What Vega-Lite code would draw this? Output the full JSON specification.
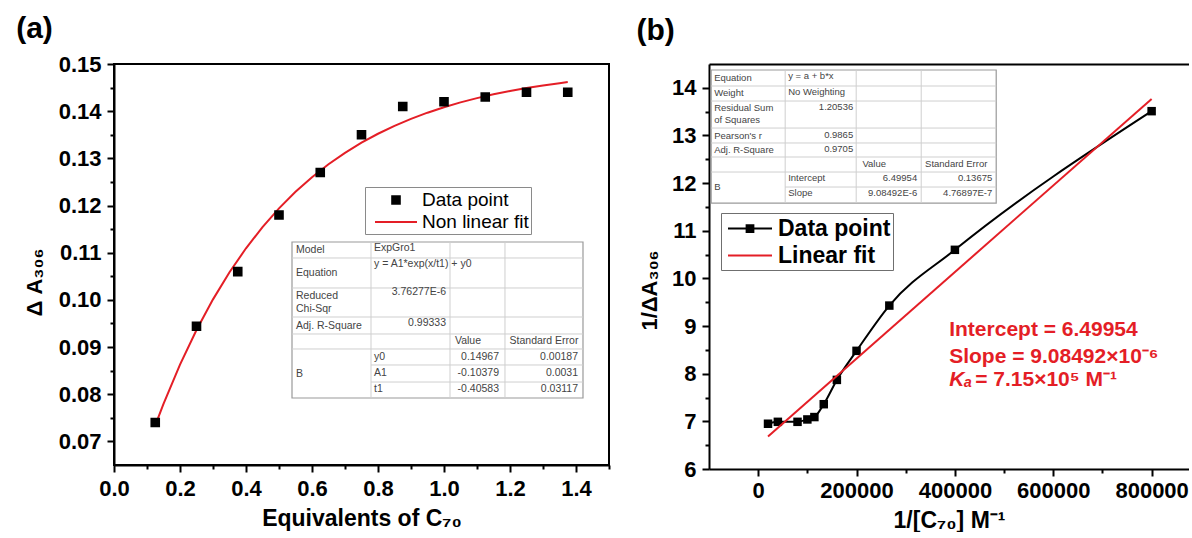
{
  "$schema": "https://vega.github.io/schema/vega-lite/v6.json",
  "background": "white",
  "padding": {"left": 15, "top": 13, "right": 0, "bottom": 0},
  "config": {
    "font": "Liberation Sans",
    "view": {"stroke": "black", "strokeWidth": 2},
    "axis": {
      "grid": false, "domainColor": "black", "domainWidth": 2,
      "tickColor": "black", "tickWidth": 2,
      "labelFont": "Liberation Sans", "labelFontSize": 22, "labelFontWeight": "bold", "labelColor": "black",
      "labelFlush": false, "labelOverlap": false,
      "titleFont": "Liberation Sans", "titleFontSize": 22, "titleFontWeight": "bold", "titleColor": "black"
    },
    "legend": {"labelFont": "Liberation Sans", "labelColor": "black", "labelLimit": 0},
    "title": {"font": "Liberation Sans", "color": "black", "fontWeight": "bold"}
  },
  "datasets": {
    "aPoints": [
      {"equiv": 0.125, "dA": 0.0740, "series": "Data point"},
      {"equiv": 0.25, "dA": 0.0944, "series": "Data point"},
      {"equiv": 0.375, "dA": 0.1060, "series": "Data point"},
      {"equiv": 0.5, "dA": 0.1180, "series": "Data point"},
      {"equiv": 0.625, "dA": 0.1270, "series": "Data point"},
      {"equiv": 0.75, "dA": 0.1350, "series": "Data point"},
      {"equiv": 0.875, "dA": 0.1410, "series": "Data point"},
      {"equiv": 1.0, "dA": 0.1420, "series": "Data point"},
      {"equiv": 1.125, "dA": 0.1430, "series": "Data point"},
      {"equiv": 1.25, "dA": 0.1440, "series": "Data point"},
      {"equiv": 1.375, "dA": 0.1440, "series": "Data point"}
    ],
    "aFit": [
      {"equiv": 0.125, "dA": 0.073398}, {"equiv": 0.15, "dA": 0.077953}, {"equiv": 0.2, "dA": 0.086265},
      {"equiv": 0.25, "dA": 0.093614}, {"equiv": 0.3, "dA": 0.100111}, {"equiv": 0.35, "dA": 0.105856},
      {"equiv": 0.4, "dA": 0.110933}, {"equiv": 0.45, "dA": 0.115425}, {"equiv": 0.5, "dA": 0.119394},
      {"equiv": 0.55, "dA": 0.122905}, {"equiv": 0.6, "dA": 0.126007}, {"equiv": 0.65, "dA": 0.128750},
      {"equiv": 0.7, "dA": 0.131175}, {"equiv": 0.75, "dA": 0.133319}, {"equiv": 0.8, "dA": 0.135214},
      {"equiv": 0.85, "dA": 0.136890}, {"equiv": 0.9, "dA": 0.138372}, {"equiv": 0.95, "dA": 0.139681},
      {"equiv": 1.0, "dA": 0.140839}, {"equiv": 1.05, "dA": 0.141863}, {"equiv": 1.1, "dA": 0.142768},
      {"equiv": 1.15, "dA": 0.143568}, {"equiv": 1.2, "dA": 0.144275}, {"equiv": 1.25, "dA": 0.144901},
      {"equiv": 1.3, "dA": 0.145453}, {"equiv": 1.35, "dA": 0.145942}, {"equiv": 1.375, "dA": 0.146165}
    ],
    "aBox": [{"x": 0.5394, "x2": 1.4212, "y": 0.11227, "y2": 0.07920}],
    "aGrid": [
      {"x": 0.5394, "x2": 1.4212, "y": 0.10888, "y2": 0.10888},
      {"x": 0.5394, "x2": 1.4212, "y": 0.10252, "y2": 0.10252},
      {"x": 0.5394, "x2": 1.4212, "y": 0.09637, "y2": 0.09637},
      {"x": 0.5394, "x2": 1.4212, "y": 0.09277, "y2": 0.09277},
      {"x": 0.5394, "x2": 1.4212, "y": 0.08959, "y2": 0.08959},
      {"x": 0.7788, "x2": 1.4212, "y": 0.08620, "y2": 0.08620},
      {"x": 0.7788, "x2": 1.4212, "y": 0.08259, "y2": 0.08259},
      {"x": 0.7788, "x2": 0.7788, "y": 0.11227, "y2": 0.07920},
      {"x": 1.0182, "x2": 1.0182, "y": 0.11227, "y2": 0.07920},
      {"x": 1.1848, "x2": 1.1848, "y": 0.11227, "y2": 0.07920}
    ],
    "aLabels": [
      {"text": "Model", "x": 0.5515, "y": 0.11055},
      {"text": "ExpGro1", "x": 0.7879, "y": 0.11097},
      {"text": "Equation", "x": 0.5515, "y": 0.10568},
      {"text": "y = A1*exp(x/t1) + y0", "x": 0.7879, "y": 0.10759},
      {"text": "Reduced", "x": 0.5515, "y": 0.10082},
      {"text": "Chi-Sqr", "x": 0.5515, "y": 0.09807},
      {"text": "Adj. R-Square", "x": 0.5515, "y": 0.09447},
      {"text": "y0", "x": 0.7879, "y": 0.08790},
      {"text": "B", "x": 0.5515, "y": 0.08430},
      {"text": "A1", "x": 0.7879, "y": 0.08451},
      {"text": "t1", "x": 0.7879, "y": 0.08111}
    ],
    "aValues": [
      {"text": "3.76277E-6", "x": 1.0061, "y": 0.10167},
      {"text": "0.99333", "x": 1.0061, "y": 0.09510},
      {"text": "0.14967", "x": 1.1667, "y": 0.08790},
      {"text": "0.00187", "x": 1.4061, "y": 0.08790},
      {"text": "-0.10379", "x": 1.1667, "y": 0.08451},
      {"text": "0.0031", "x": 1.4061, "y": 0.08451},
      {"text": "-0.40583", "x": 1.1667, "y": 0.08111},
      {"text": "0.03117", "x": 1.4061, "y": 0.08111}
    ],
    "aHeads": [
      {"text": "Value", "x": 1.0727, "y": 0.09129},
      {"text": "Standard Error", "x": 1.3030, "y": 0.09129}
    ],
    "bPoints": [
      {"invC": 20000, "invA": 6.95, "series": "Data point"},
      {"invC": 40000, "invA": 6.99, "series": "Data point"},
      {"invC": 80000, "invA": 6.99, "series": "Data point"},
      {"invC": 100000, "invA": 7.04, "series": "Data point"},
      {"invC": 114286, "invA": 7.09, "series": "Data point"},
      {"invC": 133333, "invA": 7.36, "series": "Data point"},
      {"invC": 160000, "invA": 7.87, "series": "Data point"},
      {"invC": 200000, "invA": 8.48, "series": "Data point"},
      {"invC": 266667, "invA": 9.43, "series": "Data point"},
      {"invC": 400000, "invA": 10.60, "series": "Data point"},
      {"invC": 800000, "invA": 13.51, "series": "Data point"}
    ],
    "bFit": [
      {"invC": 20000, "invA": 6.6812},
      {"invC": 800000, "invA": 13.7675}
    ],
    "bBox": [{"x": -95600, "x2": 484000, "y": 14.374, "y2": 11.582}],
    "bGrid": [
      {"x": -95600, "x2": 484000, "y": 14.038, "y2": 14.038},
      {"x": -95600, "x2": 484000, "y": 13.723, "y2": 13.723},
      {"x": -95600, "x2": 484000, "y": 13.156, "y2": 13.156},
      {"x": -95600, "x2": 484000, "y": 12.842, "y2": 12.842},
      {"x": -95600, "x2": 484000, "y": 12.548, "y2": 12.548},
      {"x": -95600, "x2": 484000, "y": 12.233, "y2": 12.233},
      {"x": 54900, "x2": 484000, "y": 11.918, "y2": 11.918},
      {"x": 54900, "x2": 54900, "y": 14.374, "y2": 11.582},
      {"x": 199300, "x2": 199300, "y": 14.374, "y2": 11.582},
      {"x": 331500, "x2": 331500, "y": 14.374, "y2": 11.582}
    ],
    "bLabels": [
      {"text": "Equation", "x": -89500, "y": 14.206},
      {"text": "y = a + b*x", "x": 61000, "y": 14.248},
      {"text": "Weight", "x": -89500, "y": 13.891},
      {"text": "No Weighting", "x": 61000, "y": 13.912},
      {"text": "Residual Sum", "x": -89500, "y": 13.576},
      {"text": "of Squares", "x": -89500, "y": 13.324},
      {"text": "Pearson's r", "x": -89500, "y": 12.988},
      {"text": "Adj. R-Square", "x": -89500, "y": 12.695},
      {"text": "B", "x": -89500, "y": 11.918},
      {"text": "Intercept", "x": 61000, "y": 12.107},
      {"text": "Slope", "x": 61000, "y": 11.792}
    ],
    "bValues": [
      {"text": "1.20536", "x": 193200, "y": 13.597},
      {"text": "0.9865", "x": 193200, "y": 13.009},
      {"text": "0.9705", "x": 193200, "y": 12.716},
      {"text": "6.49954", "x": 323300, "y": 12.107},
      {"text": "0.13675", "x": 475900, "y": 12.107},
      {"text": "9.08492E-6", "x": 323300, "y": 11.792},
      {"text": "4.76897E-7", "x": 475900, "y": 11.792}
    ],
    "bHeads": [
      {"text": "Value", "x": 235900, "y": 12.401},
      {"text": "Standard Error", "x": 402700, "y": 12.401}
    ],
    "bNotes": [
      {"text": "Intercept = 6.49954", "x": 388400, "y": 8.917},
      {"text": "Slope = 9.08492×10⁻⁶", "x": 388400, "y": 8.350}
    ],
    "bKa": [{"text": "Kₐ", "x": 388400, "y": 7.868}],
    "bKaValue": [{"text": "= 7.15×10⁵ M⁻¹", "x": 388400, "y": 7.868}]
  },
  "resolve": {"scale": {"color": "independent", "shape": "independent"}, "legend": {"color": "independent", "shape": "independent"}},
  "spacing": 25,
  "hconcat": [
    {
      "width": 495,
      "height": 401,
      "title": {"text": "(a)", "anchor": "start", "frame": "bounds", "fontSize": 30, "dx": -7, "offset": 9},
      "resolve": {"axis": {"x": "independent", "y": "independent"}},
      "layer": [
        {
          "data": {"name": "aFit"},
          "mark": {"type": "line", "color": "#e41e26", "strokeWidth": 2},
          "encoding": {
            "x": {"field": "equiv", "type": "quantitative", "scale": {"domain": [0, 1.5], "nice": false, "zero": false},
              "axis": {"orient": "bottom", "values": [0, 0.2, 0.4, 0.6, 0.8, 1, 1.2, 1.4], "format": ".1f", "tickSize": 7, "labelPadding": 6, "title": "Equivalents of C₇₀", "titleFontSize": 23, "titlePadding": 8}},
            "y": {"field": "dA", "type": "quantitative", "scale": {"domain": [0.065, 0.15], "nice": false, "zero": false},
              "axis": {"orient": "left", "values": [0.07, 0.08, 0.09, 0.1, 0.11, 0.12, 0.13, 0.14, 0.15], "format": ".2f", "tickSize": 7, "labelPadding": 6, "title": "Δ A₃₀₆", "titlePadding": 12, "titleY": 218}}
          }
        },
        {
          "data": {"name": "aPoints"},
          "mark": {"type": "point", "filled": false, "fill": "black", "strokeWidth": 2, "size": 400, "opacity": 1},
          "encoding": {
            "x": {"field": "equiv", "type": "quantitative",
              "axis": {"orient": "bottom", "values": [0.1, 0.3, 0.5, 0.7, 0.9, 1.1, 1.3, 1.5], "labels": false, "domain": false, "tickSize": 4, "title": null}},
            "y": {"field": "dA", "type": "quantitative",
              "axis": {"orient": "left", "values": [0.075, 0.085, 0.095, 0.105, 0.115, 0.125, 0.135, 0.145], "labels": false, "domain": false, "tickSize": 4, "title": null}},
            "color": {"field": "series", "type": "nominal",
              "scale": {"domain": ["Data point", "Non linear fit"], "range": ["black", "#e41e26"]},
              "legend": {
                "orient": "none", "legendX": 251, "legendY": 123, "title": null,
                "padding": 2, "strokeColor": "#8a8a8a", "fillColor": "white",
                "symbolSize": 400, "symbolStrokeWidth": 2, "symbolOffset": 18, "symbolOpacity": 1,
                "rowPadding": 1, "labelOffset": 15, "labelFontSize": 19, "labelFontWeight": "normal"
              }},
            "shape": {"field": "series", "type": "nominal",
              "scale": {"domain": ["Data point", "Non linear fit"], "range": ["M-0.38,-0.38H0.38V0.38H-0.38Z", "M-2.1,0H2.1"]},
              "legend": {
                "orient": "none", "legendX": 251, "legendY": 123, "title": null,
                "padding": 2, "strokeColor": "#8a8a8a", "fillColor": "white",
                "symbolSize": 400, "symbolStrokeWidth": 2, "symbolOffset": 18, "symbolOpacity": 1,
                "rowPadding": 1, "labelOffset": 15, "labelFontSize": 19, "labelFontWeight": "normal"
              }}
          }
        },
        {
          "data": {"name": "aBox"},
          "mark": {"type": "rect", "fill": "white", "stroke": "#9a9a9a", "strokeWidth": 1.2},
          "encoding": {
            "x": {"field": "x", "type": "quantitative", "axis": null}, "x2": {"field": "x2"},
            "y": {"field": "y", "type": "quantitative", "axis": null}, "y2": {"field": "y2"}
          }
        },
        {
          "data": {"name": "aGrid"},
          "mark": {"type": "rule", "color": "#cfcfcf", "strokeWidth": 1},
          "encoding": {
            "x": {"field": "x", "type": "quantitative", "axis": null}, "x2": {"field": "x2"},
            "y": {"field": "y", "type": "quantitative", "axis": null}, "y2": {"field": "y2"}
          }
        },
        {
          "data": {"name": "aLabels"},
          "mark": {"type": "text", "align": "left", "baseline": "middle", "fontSize": 10.5, "color": "#444"},
          "encoding": {
            "x": {"field": "x", "type": "quantitative", "axis": null},
            "y": {"field": "y", "type": "quantitative", "axis": null},
            "text": {"field": "text"}
          }
        },
        {
          "data": {"name": "aValues"},
          "mark": {"type": "text", "align": "right", "baseline": "middle", "fontSize": 10.5, "color": "#444"},
          "encoding": {
            "x": {"field": "x", "type": "quantitative", "axis": null},
            "y": {"field": "y", "type": "quantitative", "axis": null},
            "text": {"field": "text"}
          }
        },
        {
          "data": {"name": "aHeads"},
          "mark": {"type": "text", "align": "center", "baseline": "middle", "fontSize": 10.5, "color": "#444"},
          "encoding": {
            "x": {"field": "x", "type": "quantitative", "axis": null},
            "y": {"field": "y", "type": "quantitative", "axis": null},
            "text": {"field": "text"}
          }
        }
      ]
    },
    {
      "width": 480,
      "height": 405,
      "view": {"stroke": null},
      "title": {"text": "(b)", "anchor": "start", "frame": "bounds", "fontSize": 30, "dx": -2, "dy": -9, "offset": 9},
      "resolve": {"axis": {"x": "independent", "y": "independent"}},
      "layer": [
        {
          "data": {"name": "bPoints"},
          "mark": {"type": "line", "color": "black", "strokeWidth": 2, "interpolate": "monotone"},
          "encoding": {
            "x": {"field": "invC", "type": "quantitative", "scale": {"domain": [-100000, 876000], "nice": false, "zero": false},
              "axis": {"orient": "bottom", "values": [0, 200000, 400000, 600000, 800000], "format": "d", "tickSize": 7, "labelPadding": 4, "title": "1/[C₇₀] M⁻¹", "titleFontSize": 23, "titlePadding": 8}},
            "y": {"field": "invA", "type": "quantitative", "scale": {"domain": [6, 14.5], "nice": false, "zero": false},
              "axis": {"orient": "left", "values": [6, 7, 8, 9, 10, 11, 12, 13, 14], "format": "d", "tickSize": 7, "labelPadding": 6, "title": "1/ΔA₃₀₆", "titlePadding": 10, "titleY": 226}}
          }
        },
        {
          "data": {"name": "bPoints"},
          "mark": {"type": "point", "shape": "square", "filled": true, "size": 72, "color": "black", "opacity": 1},
          "encoding": {
            "x": {"field": "invC", "type": "quantitative",
              "axis": {"orient": "top", "ticks": false, "labels": false, "domain": true, "title": null}},
            "y": {"field": "invA", "type": "quantitative", "axis": null}
          }
        },
        {
          "data": {"name": "bFit"},
          "mark": {"type": "line", "color": "#e41e26", "strokeWidth": 2},
          "encoding": {
            "x": {"field": "invC", "type": "quantitative",
              "axis": {"orient": "bottom", "values": [100000, 300000, 500000, 700000], "labels": false, "domain": false, "tickSize": 4, "title": null}},
            "y": {"field": "invA", "type": "quantitative",
              "axis": {"orient": "left", "values": [6.5, 7.5, 8.5, 9.5, 10.5, 11.5, 12.5, 13.5], "labels": false, "domain": false, "tickSize": 4, "title": null}}
          }
        },
        {
          "data": {"name": "bPoints"},
          "mark": {"type": "point", "filled": false, "fill": "black", "strokeWidth": 2, "size": 625, "opacity": 0},
          "encoding": {
            "x": {"field": "invC", "type": "quantitative", "axis": null},
            "y": {"field": "invA", "type": "quantitative", "axis": null},
            "color": {"field": "series", "type": "nominal",
              "scale": {"domain": ["Data point", "Linear fit"], "range": ["black", "#e41e26"]},
              "legend": {
                "orient": "none", "legendX": 12, "legendY": 149, "title": null,
                "padding": 2, "strokeColor": "#6f6f6f", "fillColor": "white",
                "symbolSize": 625, "symbolStrokeWidth": 2, "symbolOffset": 13.5, "symbolOpacity": 1,
                "rowPadding": 1, "labelOffset": 14.5, "labelFontSize": 23, "labelFontWeight": "bold"
              }},
            "shape": {"field": "series", "type": "nominal",
              "scale": {"domain": ["Data point", "Linear fit"], "range": ["M-1.76,0H1.76M-0.27,-0.27H0.27V0.27H-0.27Z", "M-1.76,0H1.76"]},
              "legend": {
                "orient": "none", "legendX": 12, "legendY": 149, "title": null,
                "padding": 2, "strokeColor": "#6f6f6f", "fillColor": "white",
                "symbolSize": 625, "symbolStrokeWidth": 2, "symbolOffset": 13.5, "symbolOpacity": 1,
                "rowPadding": 1, "labelOffset": 14.5, "labelFontSize": 23, "labelFontWeight": "bold"
              }}
          }
        },
        {
          "data": {"name": "bBox"},
          "mark": {"type": "rect", "fill": "white", "stroke": "#9a9a9a", "strokeWidth": 1.2},
          "encoding": {
            "x": {"field": "x", "type": "quantitative", "axis": null}, "x2": {"field": "x2"},
            "y": {"field": "y", "type": "quantitative", "axis": null}, "y2": {"field": "y2"}
          }
        },
        {
          "data": {"name": "bGrid"},
          "mark": {"type": "rule", "color": "#cfcfcf", "strokeWidth": 1},
          "encoding": {
            "x": {"field": "x", "type": "quantitative", "axis": null}, "x2": {"field": "x2"},
            "y": {"field": "y", "type": "quantitative", "axis": null}, "y2": {"field": "y2"}
          }
        },
        {
          "data": {"name": "bLabels"},
          "mark": {"type": "text", "align": "left", "baseline": "middle", "fontSize": 9.5, "color": "#444"},
          "encoding": {
            "x": {"field": "x", "type": "quantitative", "axis": null},
            "y": {"field": "y", "type": "quantitative", "axis": null},
            "text": {"field": "text"}
          }
        },
        {
          "data": {"name": "bValues"},
          "mark": {"type": "text", "align": "right", "baseline": "middle", "fontSize": 9.5, "color": "#444"},
          "encoding": {
            "x": {"field": "x", "type": "quantitative", "axis": null},
            "y": {"field": "y", "type": "quantitative", "axis": null},
            "text": {"field": "text"}
          }
        },
        {
          "data": {"name": "bHeads"},
          "mark": {"type": "text", "align": "center", "baseline": "middle", "fontSize": 9.5, "color": "#444"},
          "encoding": {
            "x": {"field": "x", "type": "quantitative", "axis": null},
            "y": {"field": "y", "type": "quantitative", "axis": null},
            "text": {"field": "text"}
          }
        },
        {
          "data": {"name": "bNotes"},
          "mark": {"type": "text", "align": "left", "baseline": "middle", "fontSize": 21, "fontWeight": "bold", "color": "#e41e26"},
          "encoding": {
            "x": {"field": "x", "type": "quantitative", "axis": null},
            "y": {"field": "y", "type": "quantitative", "axis": null},
            "text": {"field": "text"}
          }
        },
        {
          "data": {"name": "bKa"},
          "mark": {"type": "text", "align": "left", "baseline": "middle", "fontSize": 21, "fontWeight": "bold", "fontStyle": "italic", "color": "#e41e26"},
          "encoding": {
            "x": {"field": "x", "type": "quantitative", "axis": null},
            "y": {"field": "y", "type": "quantitative", "axis": null},
            "text": {"field": "text"}
          }
        },
        {
          "data": {"name": "bKaValue"},
          "mark": {"type": "text", "align": "left", "baseline": "middle", "fontSize": 21, "fontWeight": "bold", "color": "#e41e26", "dx": 26},
          "encoding": {
            "x": {"field": "x", "type": "quantitative", "axis": null},
            "y": {"field": "y", "type": "quantitative", "axis": null},
            "text": {"field": "text"}
          }
        }
      ]
    }
  ]
}
